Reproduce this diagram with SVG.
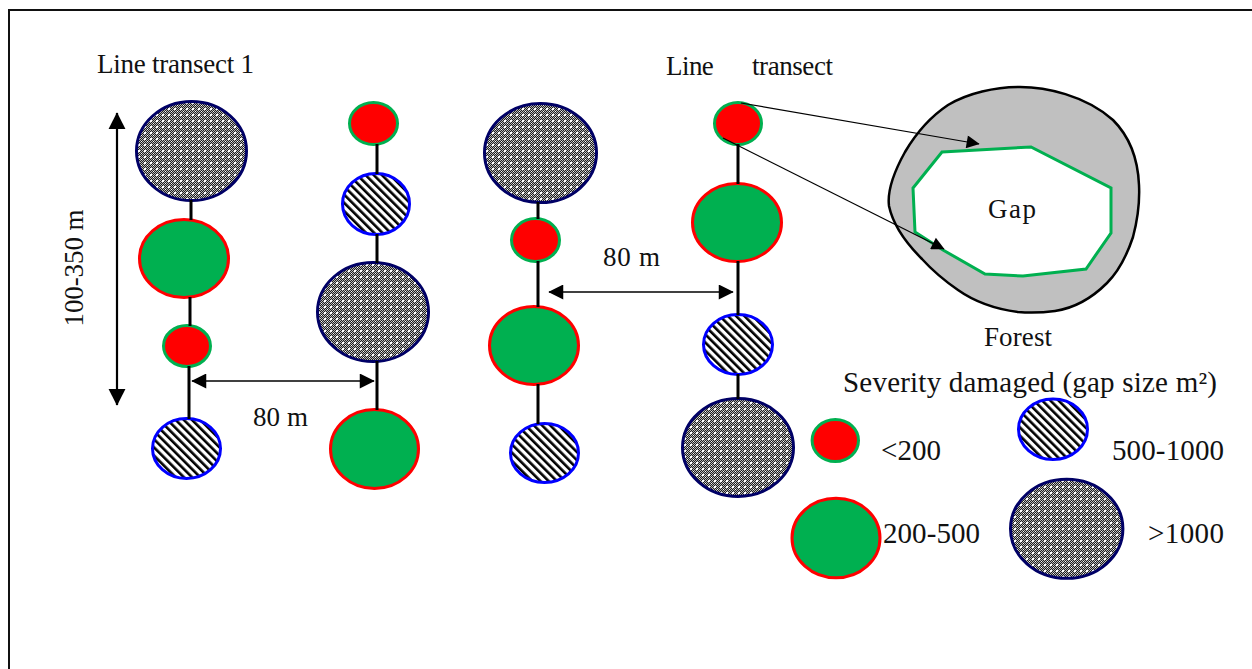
<svg xmlns="http://www.w3.org/2000/svg" width="1252" height="669" viewBox="0 0 1252 669">
<style>
  text { font-family: "Liberation Serif", "Times New Roman", serif; fill: #111; }
  .t27 { font-size: 27px; }
  .t29 { font-size: 29px; }
  .conn { stroke: #000; stroke-width: 3; fill: none; }
  .dim { stroke: #000; stroke-width: 1.5; fill: none; }
  .dimv { stroke: #000; stroke-width: 2.2; fill: none; }
  .ptr { stroke: #000; stroke-width: 1.2; fill: none; }
  .small { fill: #ff0000; stroke: #00b050; stroke-width: 3; }
  .medium { fill: #00b050; stroke: #ff0000; stroke-width: 3; }
  .hatch { fill: url(#hatchPat); stroke: #0000ff; stroke-width: 3; }
  .large { fill: url(#dotPat); stroke: #000066; stroke-width: 3; }
</style>
<defs>
  <pattern id="chk" width="2" height="2" patternUnits="userSpaceOnUse">
    <rect width="2" height="2" fill="#1e1e1e"/>
    <rect width="1" height="1" fill="#b8b8b8"/>
    <rect x="1" y="1" width="1" height="1" fill="#b8b8b8"/>
  </pattern>
  <pattern id="dotPat" width="6" height="6" patternUnits="userSpaceOnUse">
    <rect width="6" height="6" fill="url(#chk)"/>
    <rect x="0" y="0" width="2" height="2" fill="#ffffff"/>
    <rect x="3" y="3" width="1" height="1" fill="#ffffff"/>
  </pattern>
  <pattern id="hatchPat" width="5.8" height="10" patternUnits="userSpaceOnUse" patternTransform="rotate(-45)">
    <rect width="5.8" height="10" fill="#ffffff"/>
    <rect width="2.6" height="10" fill="#000000"/>
  </pattern>
  <marker id="ah" viewBox="0 0 10 10" refX="9.5" refY="5" markerWidth="17" markerHeight="15" markerUnits="userSpaceOnUse" orient="auto-start-reverse">
    <path d="M0,0 L10,5 L0,10 Z" fill="#000"/>
  </marker>
  <marker id="ahv" viewBox="0 0 10 10" refX="9.5" refY="5" markerWidth="17" markerHeight="18" markerUnits="userSpaceOnUse" orient="auto-start-reverse">
    <path d="M0,0 L10,5 L0,10 Z" fill="#000"/>
  </marker>
  <marker id="ahp" viewBox="0 0 10 10" refX="9.5" refY="5" markerWidth="16" markerHeight="13" markerUnits="userSpaceOnUse" orient="auto">
    <path d="M0,0 L10,5 L0,10 Z" fill="#000"/>
  </marker>
</defs>

<rect x="9" y="10" width="1270" height="700" fill="#fff" stroke="#111" stroke-width="2"/>

<g id="col1-large"><ellipse class="large" cx="191.5" cy="151" rx="55" ry="49.5"/></g>
<g id="col1-medium"><ellipse class="medium" cx="184" cy="258.5" rx="44.5" ry="39"/></g>
<g id="col1-small"><ellipse class="small" cx="187" cy="346" rx="23.5" ry="20.5"/></g>
<g id="col1-hatch"><ellipse class="hatch" cx="186.5" cy="448.5" rx="34" ry="30"/></g>

<g id="col2-small"><ellipse class="small" cx="373.5" cy="123.5" rx="24" ry="21"/></g>
<g id="col2-hatch"><ellipse class="hatch" cx="376" cy="204" rx="33.5" ry="30.5"/></g>
<g id="col2-large"><ellipse class="large" cx="373" cy="312" rx="55.5" ry="49.5"/></g>
<g id="col2-medium"><ellipse class="medium" cx="374.5" cy="449" rx="44" ry="39.5"/></g>

<g id="col3-large"><ellipse class="large" cx="540.5" cy="153" rx="56" ry="49.5"/></g>
<g id="col3-small"><ellipse class="small" cx="535.5" cy="240" rx="24" ry="21.5"/></g>
<g id="col3-medium"><ellipse class="medium" cx="534" cy="345.5" rx="44.5" ry="39"/></g>
<g id="col3-hatch"><ellipse class="hatch" cx="544.5" cy="453" rx="34" ry="29.5"/></g>

<g id="col4-small"><ellipse class="small" cx="738" cy="123.5" rx="23.5" ry="21"/></g>
<g id="col4-medium"><ellipse class="medium" cx="737" cy="222.5" rx="44.5" ry="39"/></g>
<g id="col4-hatch"><ellipse class="hatch" cx="738" cy="344.5" rx="34.5" ry="30"/></g>
<g id="col4-large"><ellipse class="large" cx="738" cy="447.5" rx="55.5" ry="49"/></g>

<g id="forest">
  <path d="M1020,87 C1045,87 1085,95 1113,120 C1130,137 1138,160 1139,185 C1140,205 1137,222 1133,237 C1126,258 1118,272 1107,283 C1092,298 1075,308 1055,311 C1040,313 1030,313 1018,312 C995,309 975,302 958,290 C942,279 932,270 922,259 C905,242 893,225 889,206 C887,190 895,170 905,152 C915,135 930,117 948,105 C968,93 995,87 1020,87 Z" fill="#c0c0c0" stroke="#000" stroke-width="2.5"/>
  <text class="t27" x="1018" y="346" text-anchor="middle" textLength="68">Forest</text>
</g>
<g id="gap">
  <polygon points="942,152 1031,147 1111,188 1111,233 1086,269 1023,276 985,274 943,250 915,232 913,188" fill="#fff" stroke="#00b050" stroke-width="3"/>
  <text class="t27" x="1012" y="218" text-anchor="middle" textLength="48">Gap</text>
</g>

<g id="labels">
  <text class="t27" x="97" y="73" textLength="157">Line transect 1</text>
  <text class="t27" y="75"><tspan x="666" textLength="54">Line </tspan><tspan x="752" textLength="81">transect</tspan></text>
  <text class="t27" transform="translate(83,268) rotate(-90)" text-anchor="middle" textLength="117">100-350 m</text>
  <text class="t27" x="280.5" y="426" text-anchor="middle" textLength="55">80 m</text>
  <text class="t27" x="631.5" y="266" text-anchor="middle" textLength="57">80 m</text>
</g>

<g id="legend">
  <text class="t29" x="843" y="392" textLength="374">Severity damaged (gap size m²)</text>
  <g id="legend-small"><ellipse class="small" cx="835.3" cy="440.5" rx="23.2" ry="21"/><text class="t29" x="881" y="460" textLength="60">&lt;200</text></g>
  <g id="legend-hatch"><ellipse class="hatch" cx="1053" cy="429.3" rx="34.5" ry="30.2"/><text class="t29" x="1112" y="460" textLength="112">500-1000</text></g>
  <g id="legend-medium"><ellipse class="medium" cx="836" cy="538" rx="44" ry="39.8"/><text class="t29" x="883" y="543" textLength="97">200-500</text></g>
  <g id="legend-large"><ellipse class="large" cx="1066.7" cy="528.8" rx="56.2" ry="49.5"/><text class="t29" x="1148" y="543" textLength="76">&gt;1000</text></g>
</g>

<g id="connectors">
  <path class="conn" d="M191,200 V220 M190,297 V326 M189,366 V419"/>
  <path class="conn" d="M377,144 V174 M377,234 V263 M377,361 V410"/>
  <path class="conn" d="M538,202 V219 M538,261 V307 M538,384 V424"/>
  <path class="conn" d="M738,144 V184 M738,261 V315 M738,374 V399"/>
  <line class="dim" x1="192" y1="381" x2="374" y2="381" marker-start="url(#ah)" marker-end="url(#ah)"/>
  <line class="dim" x1="549" y1="292" x2="733" y2="292" marker-start="url(#ah)" marker-end="url(#ah)"/>
  <line class="dimv" x1="117" y1="113" x2="117" y2="405" marker-start="url(#ahv)" marker-end="url(#ahv)"/>
  <line class="ptr" x1="741" y1="103" x2="979" y2="144" marker-end="url(#ahp)"/>
  <line class="ptr" x1="723" y1="138" x2="944" y2="249" marker-end="url(#ahp)"/>
</g>
</svg>
